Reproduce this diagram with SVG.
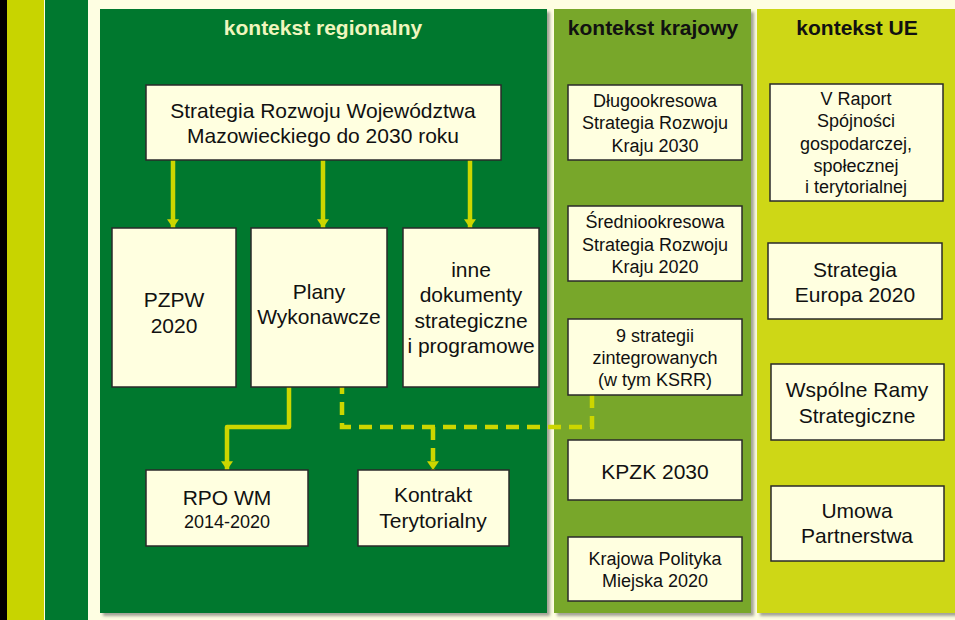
<svg xmlns="http://www.w3.org/2000/svg" width="955" height="620" viewBox="0 0 955 620">
<defs>
<style>
text{font-family:"Liberation Sans",Arial,sans-serif;text-anchor:middle;fill:#111}
.t21{font-size:21px}
.t18{font-size:18px}
.title{font-size:21px;font-weight:bold}
.box{fill:#FFFFE0;stroke:#2a2a2a;stroke-width:1.5}
.conn{fill:none;stroke:#CCD600;stroke-width:4.5}
.dash{stroke-dasharray:13 8}
</style>
<filter id="sh" x="-5%" y="-5%" width="115%" height="115%">
<feDropShadow dx="3" dy="3" stdDeviation="1.5" flood-color="#555" flood-opacity="0.55"/>
</filter>
<marker id="ah" markerUnits="userSpaceOnUse" markerWidth="16" markerHeight="12" refX="11" refY="7.5" orient="auto" viewBox="0 0 12 15">
<polygon points="0,0 11,7.5 0,15" fill="#CCD600"/>
</marker>
</defs>
<rect x="0" y="0" width="955" height="620" fill="#FEFEE2"/>
<rect x="0" y="0" width="7" height="620" fill="#000"/>
<rect x="7" y="0" width="37" height="620" fill="#C8D400"/>
<rect x="45" y="0" width="43" height="620" fill="#00782F"/>
<g id="panels">
<rect x="100" y="9" width="447" height="604" fill="#00782F" filter="url(#sh)"/>
<rect x="554" y="9" width="197" height="604" fill="#78A72A" filter="url(#sh)"/>
<rect x="757" y="9" width="200" height="604" fill="#CED714" filter="url(#sh)"/>
<text x="323" y="35" class="title" style="fill:#F0F6BE">kontekst regionalny</text>
<text x="653" y="35" class="title">kontekst krajowy</text>
<text x="857" y="35" class="title">kontekst UE</text>
</g>
<g id="connectors">
<line class="conn" x1="173" y1="160" x2="173" y2="228" marker-end="url(#ah)"/>
<line class="conn" x1="323" y1="160" x2="323" y2="228" marker-end="url(#ah)"/>
<line class="conn" x1="470" y1="160" x2="470" y2="228" marker-end="url(#ah)"/>
<path class="conn" d="M289,387 V427 H227 V470" stroke-linejoin="round" marker-end="url(#ah)"/>
<path class="conn dash" d="M592,395 V427 H342 V387"/>
<path class="conn dash" d="M433,427 V470" marker-end="url(#ah)"/>
</g>
<g id="n-srw">
<rect class="box" x="146" y="85" width="355" height="75"/>
<text class="t21" x="323" y="118">Strategia Rozwoju Województwa</text>
<text class="t21" x="323" y="143">Mazowieckiego do 2030 roku</text>
</g>
<g id="n-pzpw">
<rect class="box" x="112" y="228" width="124" height="159"/>
<text class="t21" x="174" y="307">PZPW</text>
<text class="t21" x="174" y="333">2020</text>
</g>
<g id="n-plany">
<rect class="box" x="251" y="228" width="136" height="159"/>
<text class="t21" x="319" y="299">Plany</text>
<text class="t21" x="319" y="324">Wykonawcze</text>
</g>
<g id="n-inne">
<rect class="box" x="403" y="228" width="136" height="159"/>
<text class="t21" x="471" y="277">inne</text>
<text class="t21" x="471" y="302">dokumenty</text>
<text class="t21" x="471" y="328">strategiczne</text>
<text class="t21" x="471" y="353">i programowe</text>
</g>
<g id="n-rpo">
<rect class="box" x="146" y="470" width="162" height="76"/>
<text class="t21" x="227" y="505">RPO WM</text>
<text class="t18" x="227" y="528">2014-2020</text>
</g>
<g id="n-kontrakt">
<rect class="box" x="358" y="470" width="151" height="76"/>
<text class="t21" x="433" y="502">Kontrakt</text>
<text class="t21" x="433" y="528">Terytorialny</text>
</g>
<g id="n-dsrk">
<rect class="box" x="568" y="85" width="174" height="75"/>
<text class="t18" x="655" y="107">Długookresowa</text>
<text class="t18" x="655" y="129">Strategia Rozwoju</text>
<text class="t18" x="655" y="152">Kraju 2030</text>
</g>
<g id="n-ssrk">
<rect class="box" x="568" y="206" width="174" height="75"/>
<text class="t18" x="655" y="228">Średniookresowa</text>
<text class="t18" x="655" y="251">Strategia Rozwoju</text>
<text class="t18" x="655" y="273">Kraju 2020</text>
</g>
<g id="n-9str">
<rect class="box" x="568" y="319" width="174" height="76"/>
<text class="t18" x="655" y="342">9 strategii</text>
<text class="t18" x="655" y="364">zintegrowanych</text>
<text class="t18" x="655" y="386">(w tym KSRR)</text>
</g>
<g id="n-kpzk">
<rect class="box" x="568" y="440" width="174" height="60"/>
<text class="t21" x="655" y="479">KPZK 2030</text>
</g>
<g id="n-kpm">
<rect class="box" x="568" y="537" width="174" height="64"/>
<text class="t18" x="655" y="565">Krajowa Polityka</text>
<text class="t18" x="655" y="587">Miejska 2020</text>
</g>
<g id="n-raport">
<rect class="box" x="770" y="84" width="173" height="117"/>
<text class="t18" x="856" y="105">V Raport</text>
<text class="t18" x="856" y="127">Spójności</text>
<text class="t18" x="856" y="150">gospodarczej,</text>
<text class="t18" x="856" y="172">społecznej</text>
<text class="t18" x="856" y="193">i terytorialnej</text>
</g>
<g id="n-europa">
<rect class="box" x="768" y="243" width="174" height="76"/>
<text class="t21" x="855" y="277">Strategia</text>
<text class="t21" x="855" y="302">Europa 2020</text>
</g>
<g id="n-wrs">
<rect class="box" x="771" y="364" width="173" height="76"/>
<text class="t21" x="857" y="397">Wspólne Ramy</text>
<text class="t21" x="857" y="423">Strategiczne</text>
</g>
<g id="n-umowa">
<rect class="box" x="771" y="486" width="173" height="75"/>
<text class="t21" x="857" y="518">Umowa</text>
<text class="t21" x="857" y="543">Partnerstwa</text>
</g>
</svg>
